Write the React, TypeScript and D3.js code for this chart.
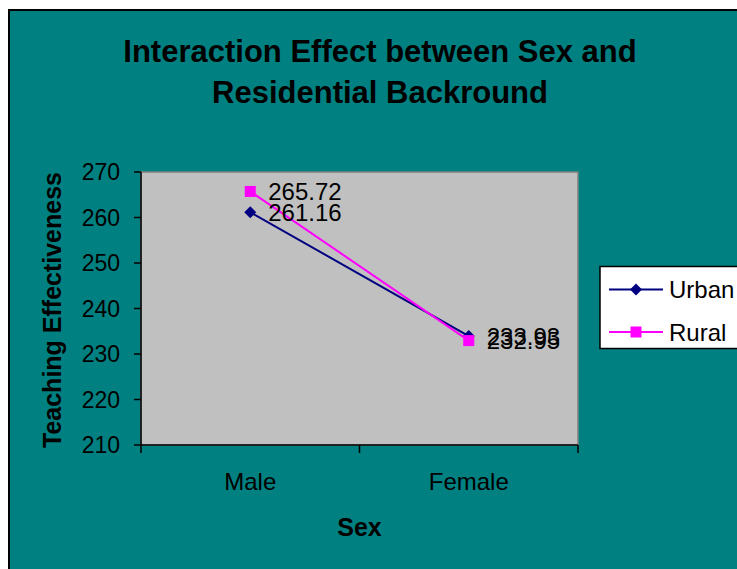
import React from "react";
import * as d3 from "d3";

const categories = ["Male", "Female"];
const urbanValues = [261.16, 233.93];
const ruralValues = [265.72, 232.95];
const yTicks = [210, 220, 230, 240, 250, 260, 270];
const titleLines = ["Interaction Effect between Sex and", "Residential Backround"];
const seriesNames = ["Urban", "Rural"];

const W = 737;
const H = 569;
const plot = { left: 141, right: 578, top: 172, bottom: 445 };
const FONT = "'Liberation Sans', Arial, sans-serif";

export default function App() {
  const x = d3.scaleBand<string>().domain(categories).range([plot.left, plot.right]).padding(0);
  const y = d3.scaleLinear().domain([210, 270]).range([plot.bottom, plot.top]);
  const cx = (c: string) => (x(c) as number) + x.bandwidth() / 2;
  const line = d3
    .line<number>()
    .x((_, i) => cx(categories[i]))
    .y((d) => y(d));

  const series = [
    { name: seriesNames[0], values: urbanValues, color: "#000080", marker: "diamond" },
    { name: seriesNames[1], values: ruralValues, color: "#FF00FF", marker: "square" },
  ];

  const marker = (kind: string, px: number, py: number, color: string, key: string) =>
    kind === "diamond" ? (
      <path key={key} d={`M${px},${py - 6} L${px + 6},${py} L${px},${py + 6} L${px - 6},${py} Z`} fill={color} />
    ) : (
      <rect key={key} x={px - 5.5} y={py - 5.5} width={11} height={11} fill={color} />
    );

  const boundaries = [plot.left, ...categories.map((c) => (x(c) as number) + x.bandwidth())];

  return (
    <svg
      width={W}
      height={H}
      style={{ position: "absolute", left: 0, top: 0, display: "block" }}
      fontFamily={FONT}
    >
      <rect x={0} y={0} width={W} height={H} fill="#ffffff" />
      <rect x={9} y={10} width={W + 20} height={H + 20} fill="#008080" stroke="#000" strokeWidth={2} />

      {titleLines.map((t, i) => (
        <text key={t} x={380} y={62 + i * 41} textAnchor="middle" fontSize={31} fontWeight="bold" fill="#000">
          {t}
        </text>
      ))}

      <rect
        x={plot.left}
        y={plot.top}
        width={plot.right - plot.left}
        height={plot.bottom - plot.top}
        fill="#C0C0C0"
        stroke="#808080"
        strokeWidth={1.5}
      />

      {/* y axis */}
      <line x1={plot.left} x2={plot.left} y1={plot.top} y2={plot.bottom} stroke="#000" strokeWidth={1.5} />
      {yTicks.map((t) => (
        <g key={t}>
          <line x1={plot.left - 7} x2={plot.left} y1={y(t)} y2={y(t)} stroke="#000" strokeWidth={1.5} />
          <text x={120} y={y(t) + 8.3} textAnchor="end" fontSize={23} fill="#000">
            {t}
          </text>
        </g>
      ))}

      {/* x axis */}
      <line x1={plot.left} x2={plot.right} y1={plot.bottom} y2={plot.bottom} stroke="#000" strokeWidth={1.5} />
      {boundaries.map((b, i) => (
        <line key={i} x1={b} x2={b} y1={plot.bottom} y2={plot.bottom + 8} stroke="#000" strokeWidth={1.5} />
      ))}
      {categories.map((c) => (
        <text key={c} x={cx(c)} y={490} textAnchor="middle" fontSize={24} fill="#000">
          {c}
        </text>
      ))}

      <text x={359.5} y={536} textAnchor="middle" fontSize={25} fontWeight="bold" fill="#000">
        Sex
      </text>
      <text
        transform={`translate(61,310) rotate(-90)`}
        textAnchor="middle"
        fontSize={25}
        fontWeight="bold"
        fill="#000"
      >
        Teaching Effectiveness
      </text>

      {series.map((s) => (
        <g key={s.name}>
          <path d={line(s.values) as string} fill="none" stroke={s.color} strokeWidth={2} />
          {s.values.map((v, i) => marker(s.marker, cx(categories[i]), y(v), s.color, s.name + i))}
        </g>
      ))}
      {series.map((s) =>
        s.values.map((v, i) => (
          <text key={s.name + "l" + i} x={cx(categories[i]) + 18} y={y(v) + 8.5} fontSize={24} fill="#000">
            {v.toFixed(2)}
          </text>
        ))
      )}

      {/* legend */}
      <rect x={600} y={266.5} width={150} height={82} fill="#ffffff" stroke="#000" strokeWidth={1.5} />
      {series.map((s, i) => {
        const ly = 289.5 + i * 42.5;
        return (
          <g key={s.name}>
            <line x1={609} x2={663} y1={ly} y2={ly} stroke={s.color} strokeWidth={2} />
            {marker(s.marker, 636, ly, s.color, s.name + "lg")}
            <text x={669} y={ly + 8.5} fontSize={24} fill="#000">
              {s.name}
            </text>
          </g>
        );
      })}
    </svg>
  );
}
